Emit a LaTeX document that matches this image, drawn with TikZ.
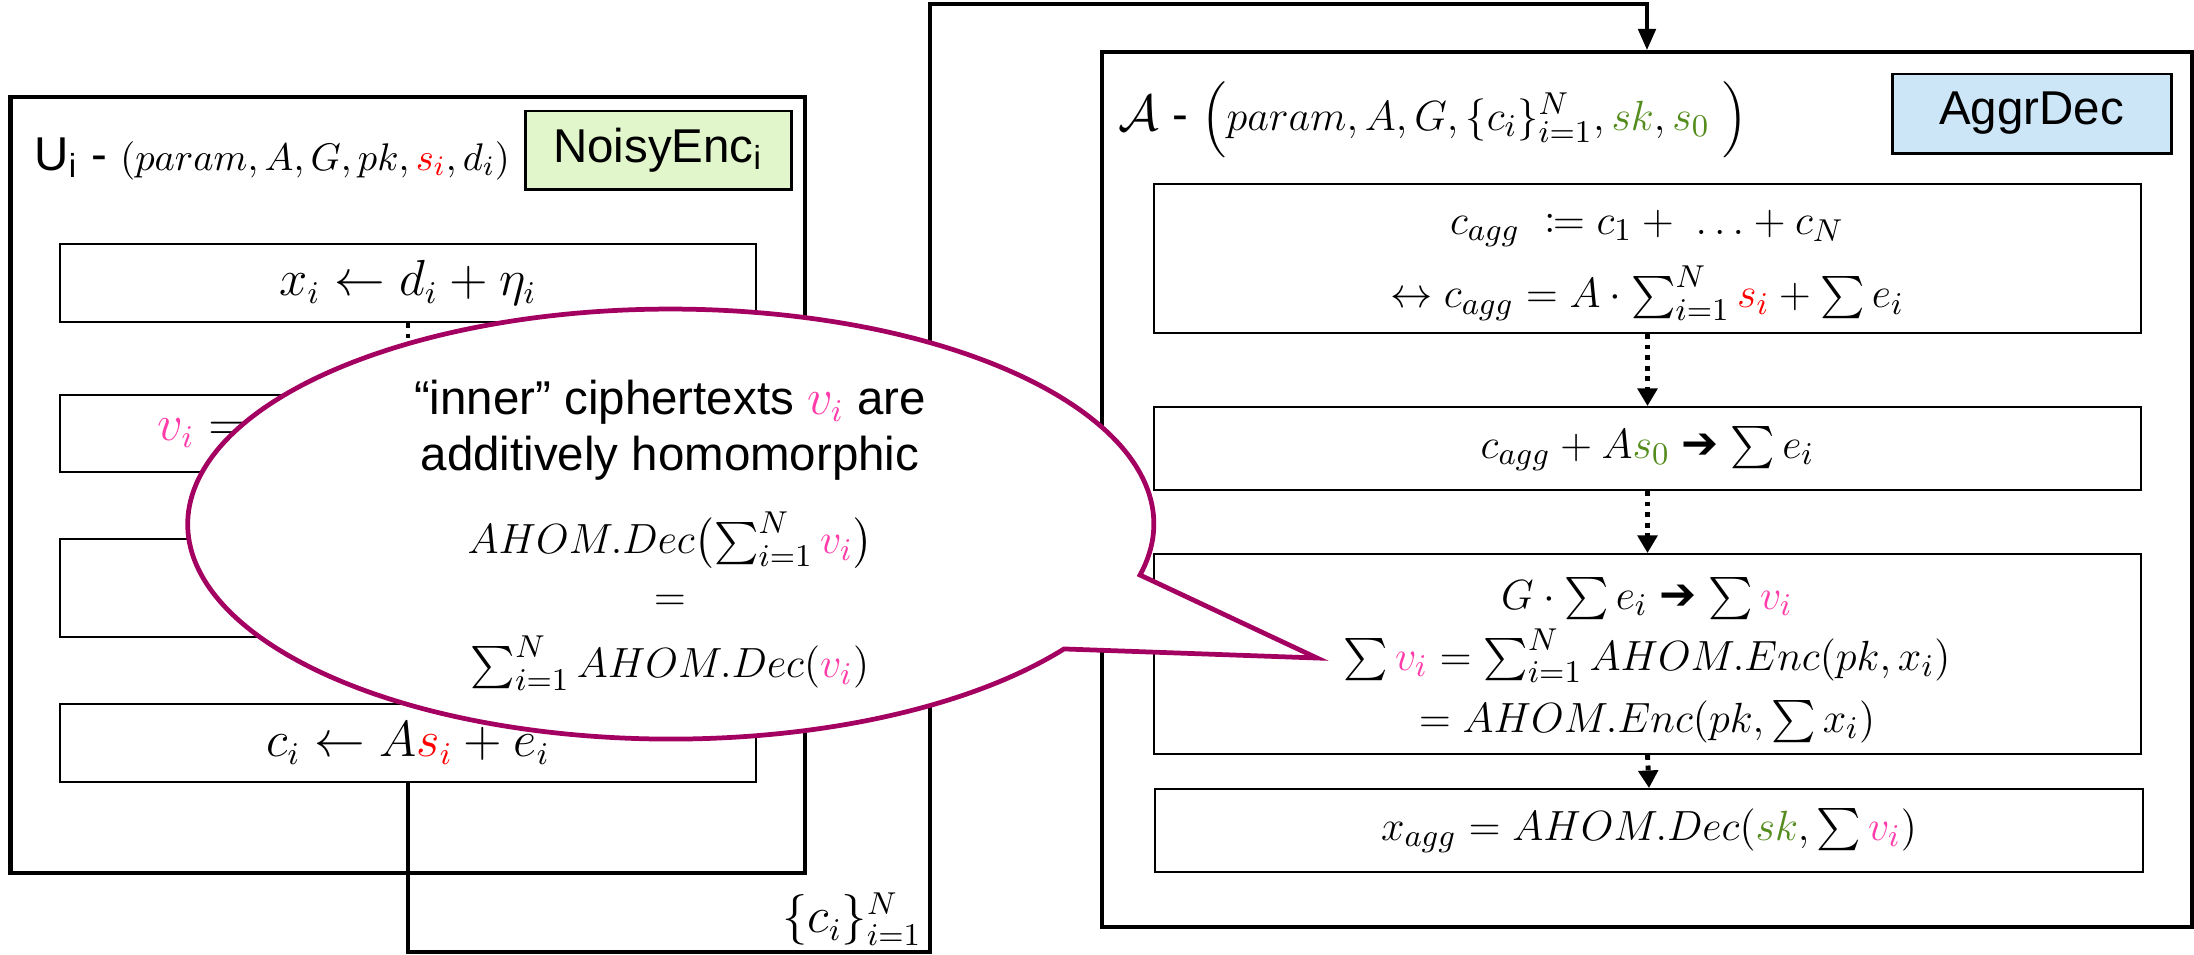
\documentclass[tikz,border=0pt]{standalone}
\usepackage{amsmath,mathtools}
\usepackage{fontspec}
\setmainfont{Liberation Sans}
\newfontfamily\arrowfont{DejaVu Sans}
\usetikzlibrary{fit,arrows.meta}
\definecolor{bubblec}{RGB}{163,0,97}
\definecolor{vpink}{RGB}{255,60,170}
\definecolor{sgreen}{RGB}{84,140,30}
\definecolor{encfill}{RGB}{226,246,204}
\definecolor{decfill}{RGB}{204,230,248}
\newcommand{\vv}{{\color{vpink}v_i}}
\newcommand{\sred}{{\color{red}s_i}}
\newcommand{\thickto}{\mathrel{\text{\arrowfont ➔}}}
\begin{document}
\begin{tikzpicture}[x=0.01cm,y=-0.01cm,
  outerbox/.style={draw, line width=1.15pt, inner sep=0pt},
  innerbox/.style={draw, line width=0.55pt, inner sep=0pt},
  tagbox/.style={draw, line width=0.85pt, inner sep=0pt},
  txt/.style={font=\fontsize{13.5}{16}\selectfont, inner sep=0pt},
  mtxt/.style={font=\fontsize{12.6}{16}\selectfont, inner sep=0pt},
  flow/.style={line width=1.4pt, dash pattern=on 1.4pt off 1.6pt, -{Triangle[length=5pt,width=5.5pt]}},
  conn/.style={line width=0.95pt},
  bubble/.style={draw=bubblec, line width=1.35pt, fill=white, line join=miter}]
\useasboundingbox (0,0) rectangle (2194,954);

% ---------- left: user box ----------
\node[outerbox, fit={(10.5,96.7)(805,873)}] (U) {};
\node[tagbox, fill=encfill, fit={(525,111)(791,189)}] (enc) {};
\node[txt] (enctxt) at (enc.center) {NoisyEnc\textsubscript{i}};
\node[txt, anchor=base west] (ulab) at (34,170) {U\textsubscript{i} - {\fontsize{10.8}{13}\selectfont$(param, A, G, pk, \sred, d_i)$}};

\node[innerbox, fit={(60,244)(756,322)}] (b1) {};
\node[txt] (b1t) at (b1.center) {$x_i \leftarrow d_i + \eta_i$};
\node[innerbox, fit={(60,395)(756,472)}] (b2) {};
\node[txt, anchor=west] (b2t) at (157,433) {$\vv =$};
\node[innerbox, fit={(60,539)(756,637)}] (b3) {};
\node[innerbox, fit={(60,704)(756,782)}] (b4) {};
\node[txt] (b4t) at (b4.center) {$c_i \leftarrow A\sred + e_i$};

\draw[flow] (b1.south) -- (b2.north);
\draw[flow] (b2.south) -- (b3.north);
\draw[flow] (b3.south) -- (b4.north);

% ---------- right: aggregator box ----------
\node[outerbox, fit={(1102,52)(2192,927)}] (A) {};
\node[tagbox, fill=decfill, fit={(1892,74)(2171,153)}] (dec) {};
\node[txt] (dectxt) at (dec.center) {AggrDec};
\node[txt, anchor=base west] (alab) at (1118,130) {$\mathcal{A}$ - {\fontsize{12.6}{15}\selectfont$\Bigl(param, A, G, \{c_i\}_{i=1}^{N}, {\color{sgreen}sk}, {\color{sgreen}s_0}\ \Bigr)$}};

\node[innerbox, fit={(1154,184)(2141,333)}] (r1) {};
\node[mtxt, align=center, font=\fontsize{12.6}{19}\selectfont] (r1t) at (1647,265)
  {$c_{agg}\ \coloneqq c_1 +\ \ldots + c_N$\\[2pt]
   $\leftrightarrow c_{agg} = A\cdot \sum_{i=1}^{N} \sred + \sum e_i$};
\node[innerbox, fit={(1154,407)(2141,490)}] (r2) {};
\node[mtxt] (r2t) at (r2.center) {$c_{agg} + A{\color{sgreen}s_0} \thickto \sum e_i$};
\node[innerbox, fit={(1154,554)(2141,754)}] (r3) {};
\node[mtxt, align=center, font=\fontsize{12.6}{17.5}\selectfont] (r3t) at (1647,660)
  {$G\cdot \sum e_i \thickto \sum \vv$\\
   $\sum \vv = \sum_{i=1}^{N} AHOM.Enc(pk, x_i)$\\
   $= AHOM.Enc(pk, \sum x_i)$};
\node[innerbox, fit={(1155,789)(2143,872)}] (r4) {};
\node[mtxt] (r4t) at (r4.center) {$x_{agg} = AHOM.Dec({\color{sgreen}sk}, \sum \vv)$};

\draw[flow] (r1.south) -- (r2.north);
\draw[flow] (r2.south) -- (r3.north);
\draw[flow] (r3.south) -- (r4.north);

% ---------- connector U -> A ----------
\coordinate (k1) at (930,952);
\coordinate (k2) at (930,4);
\coordinate (k3) at (1647,4);
\draw[conn, -{Triangle[length=6pt,width=5pt]}] (b4.south) |- (k1) -- (k2) -- (k3) -- (A.north);
\node[txt] (clab) at (852,919) {$\{c_i\}_{i=1}^{N}$};

% ---------- speech bubble ----------
\draw[bubble] (1140,575) arc[start angle=13.7, end angle=-324.5, x radius=483, y radius=215] -- (1317,658) -- cycle;
\node[txt, align=center, font=\fontsize{13.5}{16}\selectfont] (bt1) at (670,430)
  {``inner'' ciphertexts $\vv$ are\\ additively homomorphic};
\node[mtxt] (bt2) at (670,540) {$AHOM.Dec\bigl(\sum_{i=1}^{N} \vv\bigr)$};
\node[mtxt] (bt3) at (670,603) {$=$};
\node[mtxt] (bt4) at (670,663) {$\sum_{i=1}^{N} AHOM.Dec(\vv)$};
\end{tikzpicture}
\end{document}
